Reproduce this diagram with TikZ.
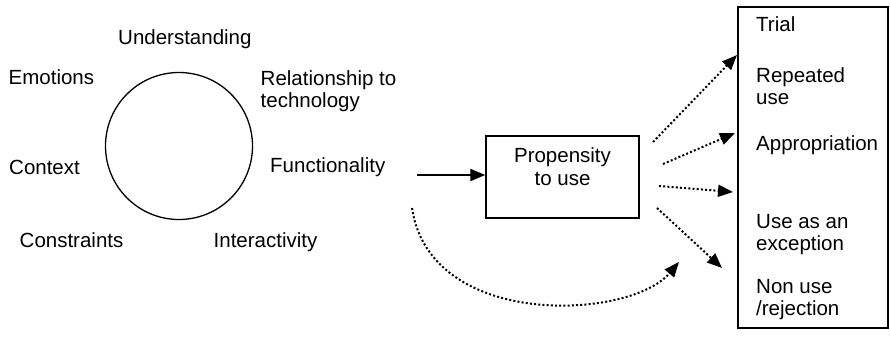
\documentclass[tikz,border=0pt]{standalone}
\usepackage{fontspec}
\setmainfont{Liberation Sans}
\usetikzlibrary{arrows.meta}

\tikzset{
	factor/.style={anchor=base west, inner sep=0pt, align=left,
		font=\fontsize{20.5}{22}\selectfont},
	dotarrow/.style={line width=2pt, dash pattern=on 2pt off 2.2pt,
		-{Triangle[length=15pt,width=12pt]}}
}

\begin{document}
\begin{tikzpicture}[x=1pt, y=-1pt]

	\useasboundingbox (0,0) rectangle (890,337);

	\node[draw, circle, line width=1.3pt, minimum size=147pt] (core) at (179,146) {};

	\node[factor] (understanding) at (118,44.5) {Understanding};
	\node[factor] (emotions) at (8.5,84) {Emotions};
	\node[factor] (relation) at (260.5,107) {Relationship to\\technology};
	\node[factor] (context) at (9,174) {Context};
	\node[factor] (function) at (270,172) {Functionality};
	\node[factor] (constraints) at (19.5,247) {Constraints};
	\node[factor] (interact) at (213.5,247) {Interactivity};

	\node[draw, line width=1.4pt, minimum width=153pt, minimum height=82pt] (propensity) at (562.5,177) {};
	\node[factor, anchor=base, align=center, font=\fontsize{20.5}{23}\selectfont] (proptext) at (562.5,185) {Propensity\\to use};

	\node[draw, line width=1.3pt, minimum width=150pt, minimum height=321pt] (outcomes) at (813,167.5) {};
	\node[factor] (trial) at (756,32) {Trial};
	\node[factor] (repeated) at (756,104) {Repeated\\use};
	\node[factor] (appropriation) at (756,150) {Appropriation};
	\node[factor] (exception) at (756,250) {Use as an\\exception};
	\node[factor] (nonuse) at (756,315) {Non use\\/rejection};

	\coordinate (in) at (417,175);
	\draw[line width=2pt, -{Triangle[length=15pt,width=12pt]}] (in) -- (in -| propensity.west);

	\coordinate (s1) at (653,142);
	\coordinate (t1) at (737,55);
	\coordinate (s2) at (663,164);
	\coordinate (t2) at (735,133);
	\coordinate (s3) at (659,186);
	\coordinate (t3) at (733,192);
	\coordinate (s4) at (657,208);
	\coordinate (t4) at (722,268);
	\foreach \i in {1,...,4}
		\draw[dotarrow] (s\i) -- (t\i);

	\coordinate (bypass) at (412,208);
	\coordinate (bypassend) at (679,262);
	\draw[dotarrow] (bypass) .. controls (430,330) and (630,320) .. (bypassend);

\end{tikzpicture}
\end{document}
